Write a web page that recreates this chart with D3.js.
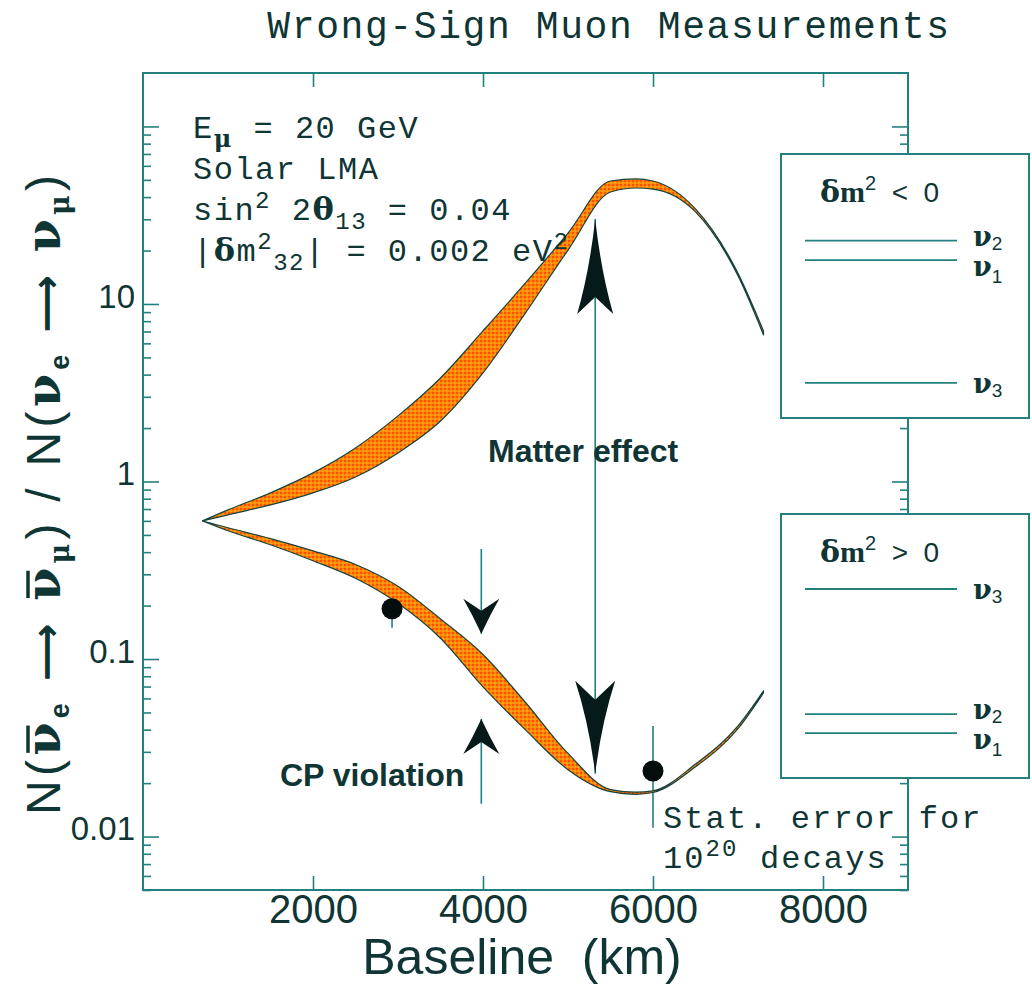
<!DOCTYPE html>
<html>
<head>
<meta charset="utf-8">
<script src="https://cdn.jsdelivr.net/npm/d3@7"></script>
<style>
  body { margin: 0; background: #fff; }
  svg { display: block; }
</style>
</head>
<body>
<div id="chart"></div>
<script>
// baselines (km) at which the two bands were read
const baselineKm = [700, 1000, 1500, 2000, 2500, 3000, 3500, 4000, 4500, 5000, 5500, 5800, 6000, 6500, 7000, 7300];
// dm^2 < 0 : upper band (edges)
const invertedHigh = [0.600, 0.692, 0.863, 1.118, 1.546, 2.342, 3.83, 7.05, 13.13, 25.1, 49.3, 50.6, 49.3, 34.3, 14.9, 7.05];
const invertedLow = [0.600, 0.649, 0.738, 0.863, 1.061, 1.449, 2.19, 4.09, 8.9, 20.1, 42.7, 45.0, 44.4, 33.0, 14.4, 6.69];
// dm^2 > 0 : lower band (edges)
const normalHigh = [0.600, 0.549, 0.477, 0.407, 0.341, 0.257, 0.168, 0.106, 0.0569, 0.0294, 0.0184, 0.0178, 0.0181, 0.0256, 0.042, 0.0662];
const normalLow = [0.600, 0.528, 0.440, 0.358, 0.285, 0.206, 0.131, 0.0697, 0.0399, 0.0238, 0.0179, 0.0173, 0.0177, 0.0247, 0.0405, 0.0645];

// measured points with stat. errors
const measuredKm = [2930, 6000];
const measuredRatio = [0.192, 0.0234];
const measuredErrLow = [0.15, 0.0112];
const measuredErrHigh = [0.245, 0.042];

// arrows
const matterArrowKm = 5320;
const matterArrowRange = [30.1, 0.0226];
const cpArrowKm = 3980;
const cpDownRange = [0.417, 0.1387];
const cpUpRange = [0.0153, 0.046];

// axes
const xTicks = [2000, 4000, 6000, 8000];
const yTicks = [0.01, 0.1, 1, 10, 100];
const yTickLabels = ['0.01', '0.1', '1', '10', ''];

// level schemes (relative mass^2)
const invertedLevels = [0.672, 0.598, 0.133];
const invertedLevelNames = ['2', '1', '3'];
const normalLevels = [0.716, 0.242, 0.170];
const normalLevelNames = ['3', '2', '1'];

const W = 1032, H = 987;
const ink = '#0f3535';
const lineCol = '#22807e';
const sans = "'Liberation Sans', Arial, Helvetica, sans-serif";
const mono = "'Liberation Mono', 'Courier New', monospace";
const serif = "'DejaVu Serif', 'Liberation Serif', serif";

const svg = d3.select('#chart').append('svg')
  .attr('width', W)
  .attr('height', H);

const x = d3.scaleLinear().domain([0, 9000]).range([143, 908]);
const y = d3.scaleLog().domain([0.005, 200]).range([890, 73]);

// orange dotted fill
const pat = svg.append('defs').append('pattern')
  .attr('id', 'dots')
  .attr('width', 4).attr('height', 4)
  .attr('patternUnits', 'userSpaceOnUse');
pat.append('rect').attr('width', 4).attr('height', 4).attr('fill', '#ff8a00');
pat.append('circle').attr('cx', 1).attr('cy', 1).attr('r', 1).attr('fill', '#ff3a00');
pat.append('circle').attr('cx', 3).attr('cy', 3).attr('r', 0.7).attr('fill', '#ffc23a');

// title
svg.append('text')
  .attr('x', 609).attr('y', 38)
  .attr('text-anchor', 'middle')
  .attr('font-family', mono).attr('font-size', 38)
  .attr('letter-spacing', 1.6)
  .attr('fill', ink)
  .text('Wrong-Sign Muon Measurements');

// frame
svg.append('rect')
  .attr('x', x.range()[0]).attr('y', y.range()[1])
  .attr('width', x.range()[1] - x.range()[0])
  .attr('height', y.range()[0] - y.range()[1])
  .attr('fill', 'none').attr('stroke', lineCol).attr('stroke-width', 2);

function styleAxis(g, size) {
  g.select('.domain').remove();
  g.selectAll('line').attr('stroke', lineCol).attr('stroke-width', 1.6);
  g.attr('font-family', sans).attr('font-size', size);
  g.selectAll('text').attr('fill', ink);
}

const isMajor = (v) => Math.abs(Math.log10(v) - Math.round(Math.log10(v))) < 1e-6;
const minorTicks = y.ticks().filter((v) => !isMajor(v) && v < 199);

// bottom / top x ticks
const gx = svg.append('g')
  .attr('transform', `translate(0,${y.range()[0]})`)
  .call(d3.axisBottom(x).tickValues(xTicks).tickSize(-14).tickSizeOuter(0).tickPadding(5).tickFormat(d3.format('d')));
styleAxis(gx, 40);
const gxTop = svg.append('g')
  .attr('transform', `translate(0,${y.range()[1]})`)
  .call(d3.axisTop(x).tickValues(xTicks).tickSize(-14).tickSizeOuter(0).tickFormat(''));
styleAxis(gxTop, 10);

// left / right y ticks
const gy = svg.append('g')
  .attr('transform', `translate(${x.range()[0]},0)`)
  .call(d3.axisLeft(y).tickValues(yTicks).tickSize(-16).tickSizeOuter(0).tickPadding(8)
    .tickFormat((d, i) => yTickLabels[i]));
styleAxis(gy, 33);
gy.selectAll('text').attr('dy', '0.1em');
svg.append('g')
  .attr('transform', `translate(${x.range()[0]},0)`)
  .call(d3.axisLeft(y).tickValues(minorTicks).tickSize(-8).tickSizeOuter(0).tickFormat(''))
  .call((g) => styleAxis(g, 10));
svg.append('g')
  .attr('transform', `translate(${x.range()[1]},0)`)
  .call(d3.axisRight(y).tickValues(yTicks).tickSize(-16).tickSizeOuter(0).tickFormat(''))
  .call((g) => styleAxis(g, 10));
svg.append('g')
  .attr('transform', `translate(${x.range()[1]},0)`)
  .call(d3.axisRight(y).tickValues(minorTicks).tickSize(-8).tickSizeOuter(0).tickFormat(''))
  .call((g) => styleAxis(g, 10));

// error bars (behind the bands)
measuredKm.forEach((km, i) => {
  svg.append('line')
    .attr('x1', x(km)).attr('x2', x(km))
    .attr('y1', y(measuredErrHigh[i])).attr('y2', y(measuredErrLow[i]))
    .attr('stroke', lineCol).attr('stroke-width', 1.6);
});

// bands
const area = d3.area()
  .x((d) => x(d.km))
  .y0((d) => y(d.lo))
  .y1((d) => y(d.hi))
  .curve(d3.curveMonotoneX);

const bands = [
  baselineKm.map((km, i) => ({ km, lo: invertedLow[i], hi: invertedHigh[i] })),
  baselineKm.map((km, i) => ({ km, lo: normalLow[i], hi: normalHigh[i] })),
];
svg.selectAll('path.band')
  .data(bands)
  .enter()
  .append('path')
  .attr('class', 'band')
  .attr('d', area)
  .attr('fill', 'url(#dots)')
  .attr('stroke', '#18423f')
  .attr('stroke-width', 1.2)
  .attr('stroke-linejoin', 'round');

// measured points
svg.selectAll('circle.meas')
  .data(measuredKm)
  .enter()
  .append('circle')
  .attr('class', 'meas')
  .attr('cx', (d) => x(d))
  .attr('cy', (d, i) => y(measuredRatio[i]))
  .attr('r', 10.5)
  .attr('fill', '#050d0d');

// arrows
function arrowHead(tx, ty, dir, len, hw, notch, bend) {
  // dir 1: points up, -1: points down
  const b = ty + dir * len;
  const n = ty + dir * (len - notch);
  const m = ty + dir * len * 0.55;
  return `M${tx},${ty} Q${tx + hw * bend},${m} ${tx + hw},${b} L${tx},${n} `
    + `L${tx - hw},${b} Q${tx - hw * bend},${m} ${tx},${ty} Z`;
}
function drawArrowLine(km, v1, v2) {
  svg.append('line')
    .attr('x1', x(km)).attr('x2', x(km))
    .attr('y1', y(v1)).attr('y2', y(v2))
    .attr('stroke', lineCol).attr('stroke-width', 1.6);
}
const headCol = '#071a1a';
drawArrowLine(matterArrowKm, matterArrowRange[0], matterArrowRange[1]);
svg.append('path').attr('d', arrowHead(x(matterArrowKm), y(matterArrowRange[0]), 1, 95, 18, 17, 0.32)).attr('fill', headCol);
svg.append('path').attr('d', arrowHead(x(matterArrowKm), y(matterArrowRange[1]), -1, 93, 20, 19, 0.32)).attr('fill', headCol);

drawArrowLine(cpArrowKm, cpDownRange[0], cpDownRange[1]);
svg.append('path').attr('d', arrowHead(x(cpArrowKm), y(cpDownRange[1]), -1, 35, 18, 12, 0.5)).attr('fill', headCol);
drawArrowLine(cpArrowKm, cpUpRange[0], cpUpRange[1]);
svg.append('path').attr('d', arrowHead(x(cpArrowKm), y(cpUpRange[1]), 1, 35, 18, 12, 0.5)).attr('fill', headCol);

// labels in the plot
svg.append('text')
  .attr('x', 488).attr('y', 462)
  .attr('font-family', sans).attr('font-weight', 'bold').attr('font-size', 32)
  .attr('fill', ink).text('Matter effect');
svg.append('text')
  .attr('x', 280).attr('y', 786)
  .attr('font-family', sans).attr('font-weight', 'bold').attr('font-size', 32)
  .attr('fill', ink).text('CP violation');

// parameters block
function monoLine(yy, parts) {
  const t = svg.append('text')
    .attr('x', 193).attr('y', yy)
    .attr('font-family', mono).attr('font-size', 32)
    .attr('letter-spacing', 1.5)
    .attr('fill', ink)
    .style('white-space', 'pre');
  let shift = 0;
  parts.forEach((p) => {
    const target = p.s === 'sub' ? 9 : (p.s === 'sup' ? -12 : 0);
    const ts = t.append('tspan').attr('dy', target - shift).text(p.t);
    shift = target;
    if (p.s) ts.attr('font-size', 24);
    if (p.g) ts.attr('font-family', serif).attr('font-weight', 'bold');
  });
  return t;
}
monoLine(138, [{ t: 'E' }, { t: 'μ', s: 'sub', g: true }, { t: ' = 20 GeV' }]);
monoLine(179, [{ t: 'Solar LMA' }]);
monoLine(220, [{ t: 'sin' }, { t: '2', s: 'sup' }, { t: ' 2' }, { t: 'θ', g: true }, { t: '13', s: 'sub' }, { t: ' = 0.04' }]);
monoLine(261, [{ t: '|' }, { t: 'δ', g: true }, { t: 'm' }, { t: '2', s: 'sup' }, { t: '32', s: 'sub' }, { t: '| = 0.002 eV' }, { t: '2', s: 'sup' }]);

// stat. error note
const statNote = svg.append('g').attr('font-family', mono).attr('font-size', 32).attr('fill', ink);
statNote.append('text').attr('x', 663).attr('y', 828).attr('letter-spacing', 2.1).text('Stat. error for');
const t2 = statNote.append('text').attr('x', 663).attr('y', 868).attr('letter-spacing', 2.1).style('white-space', 'pre');
t2.append('tspan').text('10');
t2.append('tspan').attr('dy', -12).attr('font-size', 24).text('20');
t2.append('tspan').attr('dy', 12).text(' decays');

// axis titles
svg.append('text')
  .attr('x', 522).attr('y', 974)
  .attr('text-anchor', 'middle')
  .attr('font-family', sans).attr('font-size', 50)
  .attr('fill', ink)
  .style('white-space', 'pre')
  .text('Baseline  (km)');

const yLabelG = svg.append('g').attr('transform', 'translate(60,495) rotate(-90)');
const yLabel = yLabelG.append('text')
  .attr('text-anchor', 'middle')
  .attr('font-family', sans).attr('font-size', 48)
  .attr('fill', ink)
  .style('white-space', 'pre');
const yLabelParts = [
  { t: 'N(' }, { t: 'ν', g: true, bar: true }, { t: 'e', s: true }, { t: ' ⟶ ', a: true },
  { t: 'ν', g: true, bar: true }, { t: 'μ', s: true, g: true }, { t: ') / N(' },
  { t: 'ν', g: true }, { t: 'e', s: true }, { t: ' ⟶ ', a: true }, { t: 'ν', g: true }, { t: 'μ', s: true, g: true }, { t: ')' },
];
let yShift = 0, yIdx = 0;
const barIdx = [];
yLabelParts.forEach((p) => {
  const target = p.s ? 9 : 0;
  const ts = yLabel.append('tspan').attr('dy', target - yShift).text(p.t);
  yShift = target;
  if (p.g) ts.attr('font-family', serif).attr('font-weight', 'bold');
  if (p.s) ts.attr('font-size', 27).attr('font-weight', 'bold');
  if (p.a) ts.attr('font-family', "'DejaVu Sans', sans-serif").attr('font-weight', 'bold').attr('font-size', 40);
  if (p.bar) barIdx.push(yIdx);
  yIdx += p.t.length;
});
yLabel.attr('textLength', 640).attr('lengthAdjust', 'spacing');
barIdx.forEach((i) => {
  const e = yLabel.node().getExtentOfChar(i);
  yLabelG.append('line')
    .attr('x1', e.x + 3).attr('x2', e.x + e.width - 3)
    .attr('y1', -32).attr('y2', -32)
    .attr('stroke', ink).attr('stroke-width', 3.5);
});

// mass hierarchy insets
function inset(box, title, levels, names) {
  svg.append('rect')
    .attr('x', box.x).attr('y', box.y).attr('width', box.w).attr('height', box.h)
    .attr('fill', '#fff').attr('stroke', lineCol).attr('stroke-width', 2);
  const ly = d3.scaleLinear().domain([0, 1]).range([box.y + box.h, box.y]);
  const t = svg.append('text')
    .attr('x', box.x + 39).attr('y', box.y + 48)
    .attr('font-size', 30).attr('fill', ink)
    .style('white-space', 'pre');
  t.append('tspan').attr('font-family', serif).attr('font-weight', 'bold').text('δ');
  t.append('tspan').attr('font-family', "'Liberation Serif', serif").attr('font-weight', 'bold').text('m');
  t.append('tspan').attr('font-family', sans).attr('font-size', 20).attr('dy', -12).text('2');
  t.append('tspan').attr('font-family', sans).attr('font-size', 28).attr('dy', 12).text('  ' + title + '  0');

  levels.forEach((lv, i) => {
    svg.append('line')
      .attr('x1', box.x + 24).attr('x2', box.x + 176)
      .attr('y1', ly(lv)).attr('y2', ly(lv))
      .attr('stroke', lineCol).attr('stroke-width', 1.8);
    // nudge labels of close pairs apart
    const above = levels.some((o) => o > lv && ly(lv) - ly(o) < 30);
    const below = levels.some((o) => o < lv && ly(o) - ly(lv) < 30);
    const off = above ? 16 : (below ? 5 : 10);
    const lab = svg.append('text')
      .attr('x', box.x + 192).attr('y', ly(lv) + off)
      .attr('fill', ink);
    lab.append('tspan').attr('font-family', serif).attr('font-weight', 'bold').attr('font-size', 27).text('ν');
    lab.append('tspan').attr('font-family', sans).attr('font-size', 19).attr('dy', above ? 7 : 4).text(names[i]);
  });
}
inset({ x: 781, y: 154, w: 248, h: 264 }, '<', invertedLevels, invertedLevelNames);
inset({ x: 781, y: 514, w: 248, h: 264 }, '>', normalLevels, normalLevelNames);
</script>
</body>
</html>
